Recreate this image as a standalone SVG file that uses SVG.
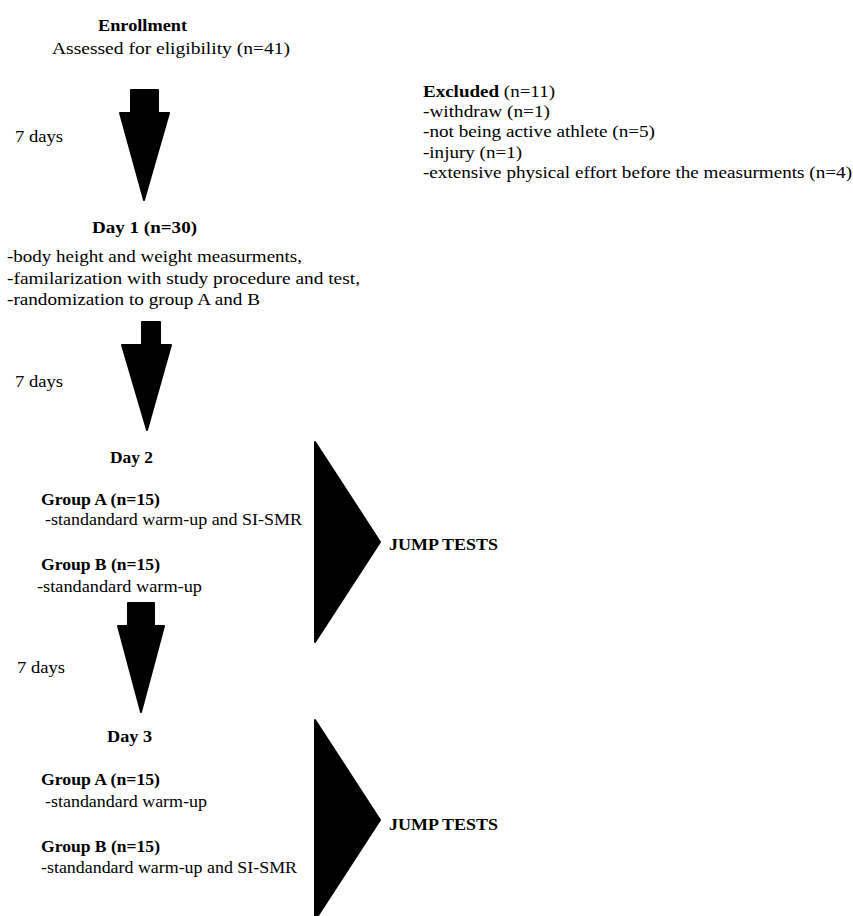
<svg xmlns="http://www.w3.org/2000/svg" width="853" height="916" viewBox="0 0 853 916">
<style>
text{font-family:"Liberation Serif","Times New Roman",serif;font-size:17px;fill:#000}
.b{font-weight:bold}
.arrow{fill:#000;stroke:#000;stroke-width:2;stroke-linejoin:round}
</style>
<rect width="853" height="916" fill="#fff"/>
<g id="connectors">
<path class="arrow" d="M131,90 H158 V113 H169 L144,200 L120,113 H131 Z"/>
<path class="arrow" d="M142,322 H160 V345 H171 L147,430 L122,345 H142 Z"/>
<path class="arrow" d="M128,603 H154 V626 H164 L141,712 L118,626 H128 Z"/>
<path class="arrow" d="M315,442 L380,542 L315,642 Z"/>
<path class="arrow" d="M315,720 L380,820 L315,920 Z"/>
</g>
<g id="enrollment">
<text class="b" x="98" y="31" textLength="89" lengthAdjust="spacingAndGlyphs">Enrollment</text>
<text x="52" y="54" textLength="238" lengthAdjust="spacingAndGlyphs">Assessed for eligibility (n=41)</text>
</g>
<g id="excluded">
<text x="423" y="97" textLength="132" lengthAdjust="spacingAndGlyphs"><tspan class="b">Excluded</tspan> (n=11)</text>
<text x="423" y="117" textLength="127" lengthAdjust="spacingAndGlyphs">-withdraw (n=1)</text>
<text x="423" y="137" textLength="232" lengthAdjust="spacingAndGlyphs">-not being active athlete (n=5)</text>
<text x="423" y="158" textLength="99" lengthAdjust="spacingAndGlyphs">-injury (n=1)</text>
<text x="423" y="178" textLength="429" lengthAdjust="spacingAndGlyphs">-extensive physical effort before the measurments (n=4)</text>
</g>
<g id="gap1"><text x="15" y="142" textLength="48" lengthAdjust="spacingAndGlyphs">7 days</text></g>
<g id="day1">
<text class="b" x="92" y="233" textLength="105" lengthAdjust="spacingAndGlyphs">Day 1 (n=30)</text>
<text x="7" y="262" textLength="295" lengthAdjust="spacingAndGlyphs">-body height and weight measurments,</text>
<text x="7" y="284" textLength="353" lengthAdjust="spacingAndGlyphs">-familarization with study procedure and test,</text>
<text x="7" y="305" textLength="253" lengthAdjust="spacingAndGlyphs">-randomization to group A and B</text>
</g>
<g id="gap2"><text x="15" y="387" textLength="48" lengthAdjust="spacingAndGlyphs">7 days</text></g>
<g id="day2">
<text class="b" x="110" y="463" textLength="43" lengthAdjust="spacingAndGlyphs">Day 2</text>
<text class="b" x="41" y="505" textLength="119" lengthAdjust="spacingAndGlyphs">Group A (n=15)</text>
<text x="45" y="525" textLength="257" lengthAdjust="spacingAndGlyphs">-standandard warm-up and SI-SMR</text>
<text class="b" x="41" y="570" textLength="119" lengthAdjust="spacingAndGlyphs">Group B (n=15)</text>
<text x="37" y="592" textLength="165" lengthAdjust="spacingAndGlyphs">-standandard warm-up</text>
</g>
<g id="jump1"><text class="b" x="389" y="550" textLength="109" lengthAdjust="spacingAndGlyphs">JUMP TESTS</text></g>
<g id="gap3"><text x="17" y="673" textLength="48" lengthAdjust="spacingAndGlyphs">7 days</text></g>
<g id="day3">
<text class="b" x="107" y="742" textLength="45" lengthAdjust="spacingAndGlyphs">Day 3</text>
<text class="b" x="41" y="785" textLength="119" lengthAdjust="spacingAndGlyphs">Group A (n=15)</text>
<text x="45" y="807" textLength="162" lengthAdjust="spacingAndGlyphs">-standandard warm-up</text>
<text class="b" x="41" y="852" textLength="119" lengthAdjust="spacingAndGlyphs">Group B (n=15)</text>
<text x="41" y="873" textLength="256" lengthAdjust="spacingAndGlyphs">-standandard warm-up and SI-SMR</text>
</g>
<g id="jump2"><text class="b" x="389" y="830" textLength="109" lengthAdjust="spacingAndGlyphs">JUMP TESTS</text></g>
</svg>
